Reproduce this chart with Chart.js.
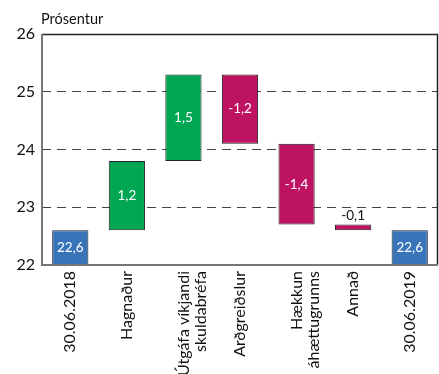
<!DOCTYPE html>
<html>
<head>
<meta charset="utf-8">
<script src="https://cdn.jsdelivr.net/npm/chart.js@4/dist/chart.umd.min.js"></script>
<style>
  html, body { margin: 0; padding: 0; background: #fff; }
  #wrap { width: 439px; height: 374px; position: relative; }
</style>
</head>
<body>
<div id="wrap"><canvas id="c"></canvas></div>
<script>
// Flokkar (línur í merkingum brotnar með fylki)
const categories = [
  "30.06.2018",
  "Hagnaður",
  ["Útgáfa víkjandi", "skuldabréfa"],
  "Arðgreiðslur",
  ["Hækkun", "áhættugrunns"],
  "Annað",
  "30.06.2019"
];
// Breytingar í prósentustigum; fyrsta og síðasta gildi eru staða
const changes = [22.6, 1.2, 1.5, -1.2, -1.4, -0.1, 22.6];
const kinds = ["total", "change", "change", "change", "change", "change", "total"];
const yTicks = [22, 23, 24, 25, 26];

const COLORS = { total: "#3a74b8", up: "#00a651", down: "#bd1361" };
const FONT = "Lato, 'Open Sans', sans-serif";
const yMin = 22, yMax = 26;

// Fljótandi súlur byggðar upp úr uppsöfnuðum breytingum
let running = 0;
const ranges = [], colors = [];
changes.forEach((v, i) => {
  if (kinds[i] === "total") {
    running = v;
    ranges.push([yMin, v]);
    colors.push(COLORS.total);
  } else {
    const start = running;
    running = +(running + v).toFixed(4);
    ranges.push([start, running]);
    colors.push(v >= 0 ? COLORS.up : COLORS.down);
  }
});

const fmt = v => v.toFixed(1).replace(".", ",");

const framePlugin = {
  id: "frame",
  afterDraw(chart) {
    const { ctx, chartArea: a } = chart;
    ctx.save();
    ctx.lineWidth = 1.5;
    ctx.strokeStyle = "#222";
    ctx.beginPath();
    ctx.moveTo(a.left, a.top + 0.5);
    ctx.lineTo(a.right - 0.5, a.top + 0.5);
    ctx.lineTo(a.right - 0.5, a.bottom);
    ctx.stroke();
    ctx.strokeStyle = "#777";
    ctx.lineWidth = 2;
    ctx.beginPath();
    ctx.moveTo(a.left, a.top);
    ctx.lineTo(a.left, a.bottom);
    ctx.lineTo(a.right, a.bottom);
    ctx.stroke();
    // Eining ássins
    ctx.fillStyle = "#111";
    ctx.font = "14.5px " + FONT;
    ctx.textAlign = "left";
    ctx.textBaseline = "alphabetic";
    ctx.fillText("Prósentur", a.left - 1, 24);
    ctx.restore();
  }
};

const labelPlugin = {
  id: "barLabels",
  afterDatasetsDraw(chart) {
    const { ctx } = chart;
    const meta = chart.getDatasetMeta(0);
    ctx.save();
    ctx.font = "13.5px " + FONT;
    ctx.textAlign = "center";
    meta.data.forEach((bar, i) => {
      const v = changes[i];
      const top = Math.min(bar.y, bar.base);
      const h = Math.abs(bar.base - bar.y);
      if (h < 16) {
        ctx.fillStyle = "#111";
        ctx.textBaseline = "bottom";
        ctx.fillText(fmt(v), bar.x, top - 2);
      } else {
        ctx.fillStyle = "#fff";
        ctx.textBaseline = "middle";
        ctx.fillText(fmt(v), bar.x, top + h / 2);
      }
    });
    ctx.restore();
  }
};

new Chart(document.getElementById("c"), {
  type: "bar",
  data: {
    labels: categories,
    datasets: [{
      data: ranges,
      backgroundColor: colors,
      borderColor: "#222",
      borderWidth: 1,
      borderSkipped: false,
      barPercentage: 0.64,
      categoryPercentage: 1
    }]
  },
  options: {
    responsive: true,
    maintainAspectRatio: false,
    animation: false,
    layout: { padding: { top: 34, right: 1, left: 0, bottom: 0 } },
    plugins: { legend: { display: false }, tooltip: { enabled: false } },
    scales: {
      x: {
        grid: { display: false, drawTicks: false },
        border: { display: false },
        ticks: {
          color: "#111",
          font: { family: FONT, size: 16, lineHeight: 1.1 },
          minRotation: 90,
          maxRotation: 90,
          autoSkip: false,
          padding: 6
        },
        afterFit(s) { s.height = 109; }
      },
      y: {
        min: yMin,
        max: yMax,
        afterBuildTicks(s) { s.ticks = yTicks.map(v => ({ value: v })); },
        grid: {
          drawTicks: false,
          color: c => (c.tick && c.tick.value > yMin && c.tick.value < yMax) ? "#444" : "rgba(0,0,0,0)",
          lineWidth: 1
        },
        border: { display: false, dash: [9, 6] },
        ticks: {
          color: "#111",
          font: { family: FONT, size: 16 },
          padding: 7
        },
        afterFit(s) { s.width = 42; }
      }
    }
  },
  plugins: [framePlugin, labelPlugin]
});
</script>
</body>
</html>
